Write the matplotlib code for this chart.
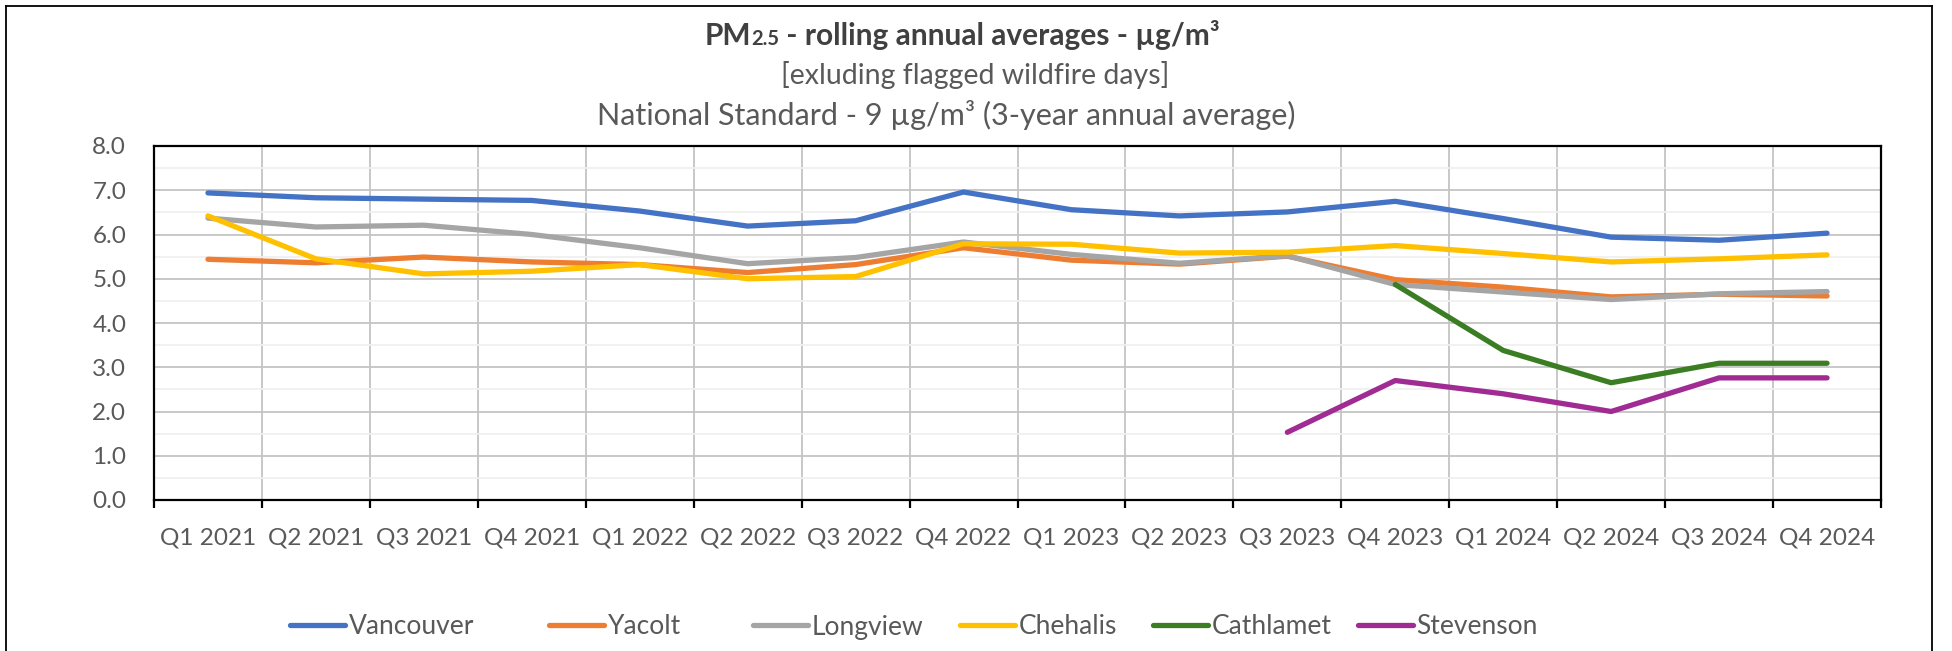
import numpy as np
import matplotlib
matplotlib.use("Agg")
import matplotlib.pyplot as plt
from matplotlib.lines import Line2D
from matplotlib.offsetbox import TextArea, HPacker, AnnotationBbox

plt.rcParams['font.family'] = ['Lato', 'DejaVu Sans']

# Quarter labels along the x axis
quarters = ["Q1 2021", "Q2 2021", "Q3 2021", "Q4 2021",
            "Q1 2022", "Q2 2022", "Q3 2022", "Q4 2022",
            "Q1 2023", "Q2 2023", "Q3 2023", "Q4 2023",
            "Q1 2024", "Q2 2024", "Q3 2024", "Q4 2024"]

# Rolling annual averages (ug/m3)
vancouver = [6.94, 6.83, 6.80, 6.77, 6.53, 6.19, 6.31, 6.96,
             6.56, 6.42, 6.51, 6.75, 6.36, 5.94, 5.87, 6.03]
yacolt = [5.44, 5.36, 5.49, 5.38, 5.32, 5.14, 5.32, 5.70,
          5.42, 5.33, 5.51, 4.98, 4.81, 4.59, 4.65, 4.61]
longview = [6.37, 6.17, 6.21, 6.00, 5.70, 5.34, 5.48, 5.83,
            5.55, 5.35, 5.52, 4.87, 4.70, 4.53, 4.66, 4.71]
chehalis = [6.42, 5.45, 5.11, 5.17, 5.32, 5.00, 5.05, 5.79,
            5.78, 5.58, 5.60, 5.75, 5.57, 5.38, 5.45, 5.54]
nan = np.nan
cathlamet = [nan, nan, nan, nan, nan, nan, nan, nan,
             nan, nan, nan, 4.87, 3.38, 2.65, 3.09, 3.09]
stevenson = [nan, nan, nan, nan, nan, nan, nan, nan,
             nan, nan, 1.53, 2.70, 2.40, 2.00, 2.76, 2.76]

series = [("Vancouver", vancouver, "#4472C4"),
          ("Yacolt", yacolt, "#ED7D31"),
          ("Longview", longview, "#A5A5A5"),
          ("Chehalis", chehalis, "#FFC000"),
          ("Cathlamet", cathlamet, "#3B7D23"),
          ("Stevenson", stevenson, "#A02B93")]

W, H = 1952, 651
fig = plt.figure(figsize=(W / 100, H / 100), dpi=100)
ax = fig.add_axes([154 / W, 1 - 500 / H, (1881 - 154) / W, (500 - 146) / H])

x = np.arange(len(quarters))
handles = []
for name, vals, col in series:
    ln, = ax.plot(x, vals, color=col, lw=3.8, label=name,
                  solid_capstyle='round', solid_joinstyle='round', zorder=3)
    handles.append(ln)

# axes, grid
ax.set_xlim(-0.5, len(quarters) - 0.5)
ax.set_ylim(0, 8)
ax.set_yticks(np.arange(0, 8.1, 1))
ax.set_yticklabels([f"{v:.1f}" for v in np.arange(0, 8.1, 1)])
ax.set_yticks(np.arange(0.5, 8, 1), minor=True)
ax.set_xticks(x)
ax.set_xticklabels(quarters)
ax.set_xticks(np.arange(-0.5, len(quarters)), minor=True)

ax.grid(axis='y', which='major', color='#c4c4c4', lw=1.3, zorder=1)
ax.grid(axis='y', which='minor', color='#f0f0f0', lw=1.3, zorder=1)
ax.grid(axis='x', which='minor', color='#c4c4c4', lw=1.3, zorder=1)

for s in ax.spines.values():
    s.set_color('black')
    s.set_linewidth(1.6)

ax.tick_params(axis='x', which='major', length=0, pad=20, labelsize=17.5, labelcolor='#595959')
ax.tick_params(axis='x', which='minor', length=6, width=1.6, color='black', direction='out')
ax.tick_params(axis='y', which='both', length=0, pad=20, labelsize=17.5, labelcolor='#595959')

# title block
t1 = TextArea("PM", textprops=dict(fontsize=21.5, fontweight='bold', color='#404040'))
t2 = TextArea("2.5", textprops=dict(fontsize=14.5, fontweight='bold', color='#404040'))
t3 = TextArea(" - rolling annual averages - µg/m³",
              textprops=dict(fontsize=21.5, fontweight='bold', color='#404040'))
pack = HPacker(children=[t1, t2, t3], align='baseline', pad=0, sep=0)
fig.add_artist(AnnotationBbox(pack, (962, H - 35), xycoords='figure pixels',
                              frameon=False, box_alignment=(0.5, 0.5)))
fig.text(975 / W, 1 - 75 / H, "[exluding flagged wildfire days]", ha='center', va='center',
         fontsize=20.5, color='#595959')
fig.text(946 / W, 1 - 115 / H, "National Standard - 9 µg/m³ (3-year annual average)",
         ha='center', va='center', fontsize=22, color='#595959')

# legend entries sit in fixed slots, like the spreadsheet legend
slot_x = [290, 549, 753, 960, 1153, 1358]
for h, sx in zip(handles, slot_x):
    leg = fig.legend(handles=[h], loc='center left', bbox_to_anchor=(sx / W, 1 - 627 / H),
                     frameon=False, fontsize=19, handlelength=2.1, handletextpad=0.12,
                     borderpad=0, borderaxespad=0)
    for t in leg.get_texts():
        t.set_color('#595959')

# chart-area border (bottom edge is off the image)
for xs, ys in [([6, 6], [0, H - 6]), ([6, 1932], [H - 6, H - 6]), ([1932, 1932], [H - 6, 0])]:
    fig.add_artist(Line2D([v / W for v in xs], [v / H for v in ys], color='black', lw=1.3))

fig.savefig("out.png", dpi=100)
